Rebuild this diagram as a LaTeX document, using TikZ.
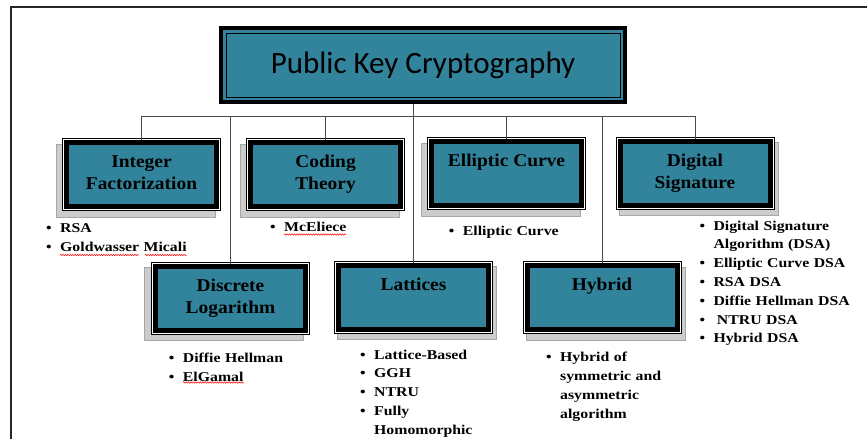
\documentclass[tikz,border=0pt]{standalone}
\usepackage{fontspec}
\setmainfont{Liberation Serif}
\newfontfamily\titlefont{Carlito}
\newfontfamily\boxfont[FakeStretch=1.08]{Liberation Serif}
\newfontfamily\listfont[FakeStretch=1.17]{Liberation Serif}
\usetikzlibrary{backgrounds}
\usetikzlibrary{decorations.pathmorphing}

\definecolor{boxteal}{RGB}{49,132,155}

\newcommand\lbul{\makebox[14pt][l]{\textbullet}}
\newcommand\lnext{\\\lbul}
\newcommand\lcont{\\\hspace*{14pt}}

\tikzset{
  topbox/.style={draw=black, line width=4pt, fill=boxteal, minimum width=404pt, minimum height=74pt, inner sep=0pt, font=\titlefont\fontsize{31}{36}\selectfont},
  catbox/.style={draw=black, line width=5pt, fill=boxteal, inner xsep=5pt, inner ysep=9.8pt, font=\boxfont\bfseries\fontsize{18}{22}\selectfont,
    execute at begin node={\begin{minipage}[t][44.4pt][t]{140pt}\centering\strut},
    execute at end node={\end{minipage}}},
  itemlist/.style={anchor=base west, inner sep=0pt, text width=170pt, font=\listfont\bfseries\fontsize{13.5}{18.8}\selectfont},
  link/.style={draw=black!70, line width=0.8pt},
  boxshadow/.style={fill=black!20, draw=black!35, line width=0.6pt},
  boxframe/.style={fill=white, draw=black, line width=0.8pt},
  spell/.style={draw=red, line width=0.5pt, decorate, decoration={snake, amplitude=0.7pt, segment length=2.4pt}}
}

\begin{document}
\begin{tikzpicture}[x=1pt, y=-1pt]
\useasboundingbox (0,0) rectangle (867,439);

\draw[line width=1.2pt, black!85] (11,439) -- (11,7) -- (867,7);

\node[topbox] (pkc) at (423,65) {Public Key Cryptography};
\draw[line width=0.9pt] ([shift={(7pt,-7pt)}]pkc.north west) rectangle ([shift={(-7pt,7pt)}]pkc.south east);

\node[catbox] (intf) at (141.5,174.5) {Integer\\Factorization};
\node[catbox] (code) at (325.5,174.5) {Coding\\Theory};
\node[catbox] (ecc) at (506.5,173.5) {Elliptic Curve};
\node[catbox] (dsig) at (695,173.5) {Digital\\Signature};
\node[catbox] (disc) at (230.5,298) {Discrete\\Logarithm};
\node[catbox] (latt) at (413.5,297) {Lattices};
\node[catbox] (hyb) at (602,297.5) {Hybrid};

\begin{scope}[on background layer]
\foreach \c/\dx/\dy in {intf/-6/6, code/-6/6, ecc/-6/6, dsig/3.5/5.5, disc/-6.5/6, latt/3.5/6, hyb/3.5/6}{
  \filldraw[boxshadow] ([shift={(\dx pt-2pt,-\dy pt+2pt)}]\c.north west) rectangle ([shift={(\dx pt+2pt,-\dy pt-2pt)}]\c.south east);
  \filldraw[boxframe] ([shift={(-1.4pt,1.4pt)}]\c.north west) rectangle ([shift={(1.4pt,-1.4pt)}]\c.south east);
}
\end{scope}

\coordinate (bus) at (0,116);
\draw[link] (pkc.south -| latt.north) -- (latt.north);
\foreach \c in {intf,disc,code,ecc,hyb,dsig}
  \draw[link] (latt.north |- bus) -| (\c.north);

\node[itemlist] (intflist) at (46,232.7) {\lbul RSA\lnext Goldwasser Micali};
\node[itemlist] (codelist) at (270,231.7) {\lbul McEliece};
\node[itemlist] (ecclist) at (448.7,235) {\lbul Elliptic Curve};
\node[itemlist] (dsiglist) at (699.3,230) {\lbul Digital Signature\lcont Algorithm (DSA)\lnext Elliptic Curve DSA\lnext RSA DSA\lnext Diffie Hellman DSA\lnext\hspace*{3.5pt}NTRU DSA\lnext Hybrid DSA};
\node[itemlist] (disclist) at (168.7,362.3) {\lbul Diffie Hellman\lnext ElGamal};
\node[itemlist] (lattlist) at (360,359) {\lbul Lattice-Based\lnext GGH\lnext NTRU\lnext Fully\lcont Homomorphic};
\node[itemlist] (hyblist) at (546,361.7) {\lbul Hybrid of\lcont symmetric and\lcont asymmetric\lcont algorithm};

\draw[spell] (60,255) -- (139,255);
\draw[spell] (145,255) -- (187,255);
\draw[spell] (284,234.5) -- (346,234.5);
\draw[spell] (183,382.5) -- (244,382.5);
\end{tikzpicture}
\end{document}
